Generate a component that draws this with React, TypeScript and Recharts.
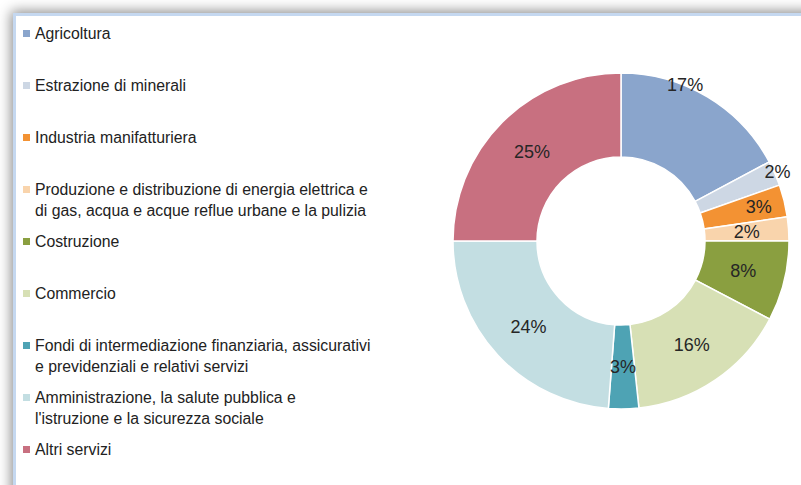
import { PieChart, Pie, Cell } from "recharts";

const categories = [
  "Agricoltura",
  "Estrazione di minerali",
  "Industria manifatturiera",
  "Produzione e distribuzione di energia elettrica e\ndi gas, acqua e acque reflue urbane e la pulizia",
  "Costruzione",
  "Commercio",
  "Fondi di intermediazione finanziaria, assicurativi\ne previdenziali e relativi servizi",
  "Amministrazione, la salute pubblica e\nl'istruzione e la sicurezza sociale",
  "Altri servizi",
];

const shares = [17.2, 2.4, 3.1, 2.3, 7.7, 15.6, 2.9, 23.8, 25.0];

const colors = [
  "#8aa5cc",
  "#cdd7e4",
  "#f39233",
  "#f9d4ac",
  "#8a9f40",
  "#d7e0b5",
  "#4ea3b4",
  "#c3dee2",
  "#c87080",
];

const data = categories.map((name, i) => ({ name, value: shares[i] }));

const FONT = "'Liberation Sans', Arial, sans-serif";

// Excel "best fit" put a few labels off the ring middle
const labelTweaks: Record<number, { r?: number; angle?: number }> = {
  0: { r: 169, angle: 67.7 },
  1: { r: 171 },
  2: { r: 142 },
};

const renderLabel = (props: any) => {
  const RADIAN = Math.PI / 180;
  const { cx, cy, midAngle, innerRadius, outerRadius, index, value } = props;
  const tweak = labelTweaks[index] || {};
  const r = tweak.r ?? (innerRadius + outerRadius) / 2;
  const a = tweak.angle ?? midAngle;
  const x = cx + r * Math.cos(-RADIAN * a);
  const y = cy + r * Math.sin(-RADIAN * a);
  return (
    <text
      x={x}
      y={y}
      textAnchor="middle"
      dominantBaseline="central"
      fill="#262626"
      fontSize={18}
      fontFamily={FONT}
    >
      {`${Math.round(value)}%`}
    </text>
  );
};

const ChartLegend = () => (
  <div
    style={{
      position: "absolute",
      left: 23,
      top: 23,
      fontFamily: FONT,
      fontSize: 15.8,
      color: "#222",
    }}
  >
    {categories.map((name, i) => (
      <div key={name} style={{ height: 52, display: "flex", alignItems: "flex-start" }}>
        <span
          style={{
            width: 7,
            height: 7,
            marginTop: 7,
            marginRight: 5,
            background: colors[i],
            flex: "none",
          }}
        />
        <span style={{ whiteSpace: "pre-line", lineHeight: "21px" }}>{name}</span>
      </div>
    ))}
  </div>
);

export default function App() {
  return (
    <div
      style={{
        position: "absolute",
        left: 0,
        top: 0,
        width: 801,
        height: 485,
        overflow: "hidden",
        background: "#fff",
      }}
    >
      <div
        style={{
          position: "absolute",
          left: 13,
          top: 13,
          width: 820,
          height: 500,
          border: "3px solid #c5d8f0",
          boxShadow: "0 0 12px 2px rgba(0,0,0,0.45)",
          background: "#fff",
        }}
      />
      <div style={{ position: "absolute", left: 0, top: 0 }}>
        <PieChart width={801} height={485} margin={{ top: 0, right: 0, bottom: 0, left: 0 }}>
          <Pie
            data={data}
            dataKey="value"
            nameKey="name"
            cx={621}
            cy={241}
            innerRadius={84}
            outerRadius={168}
            startAngle={90}
            endAngle={-270}
            stroke="#fff"
            strokeWidth={1.5}
            label={renderLabel}
            labelLine={false}
            isAnimationActive={false}
          >
            {data.map((d, i) => (
              <Cell key={d.name} fill={colors[i]} />
            ))}
          </Pie>
        </PieChart>
      </div>
      <ChartLegend />
    </div>
  );
}
